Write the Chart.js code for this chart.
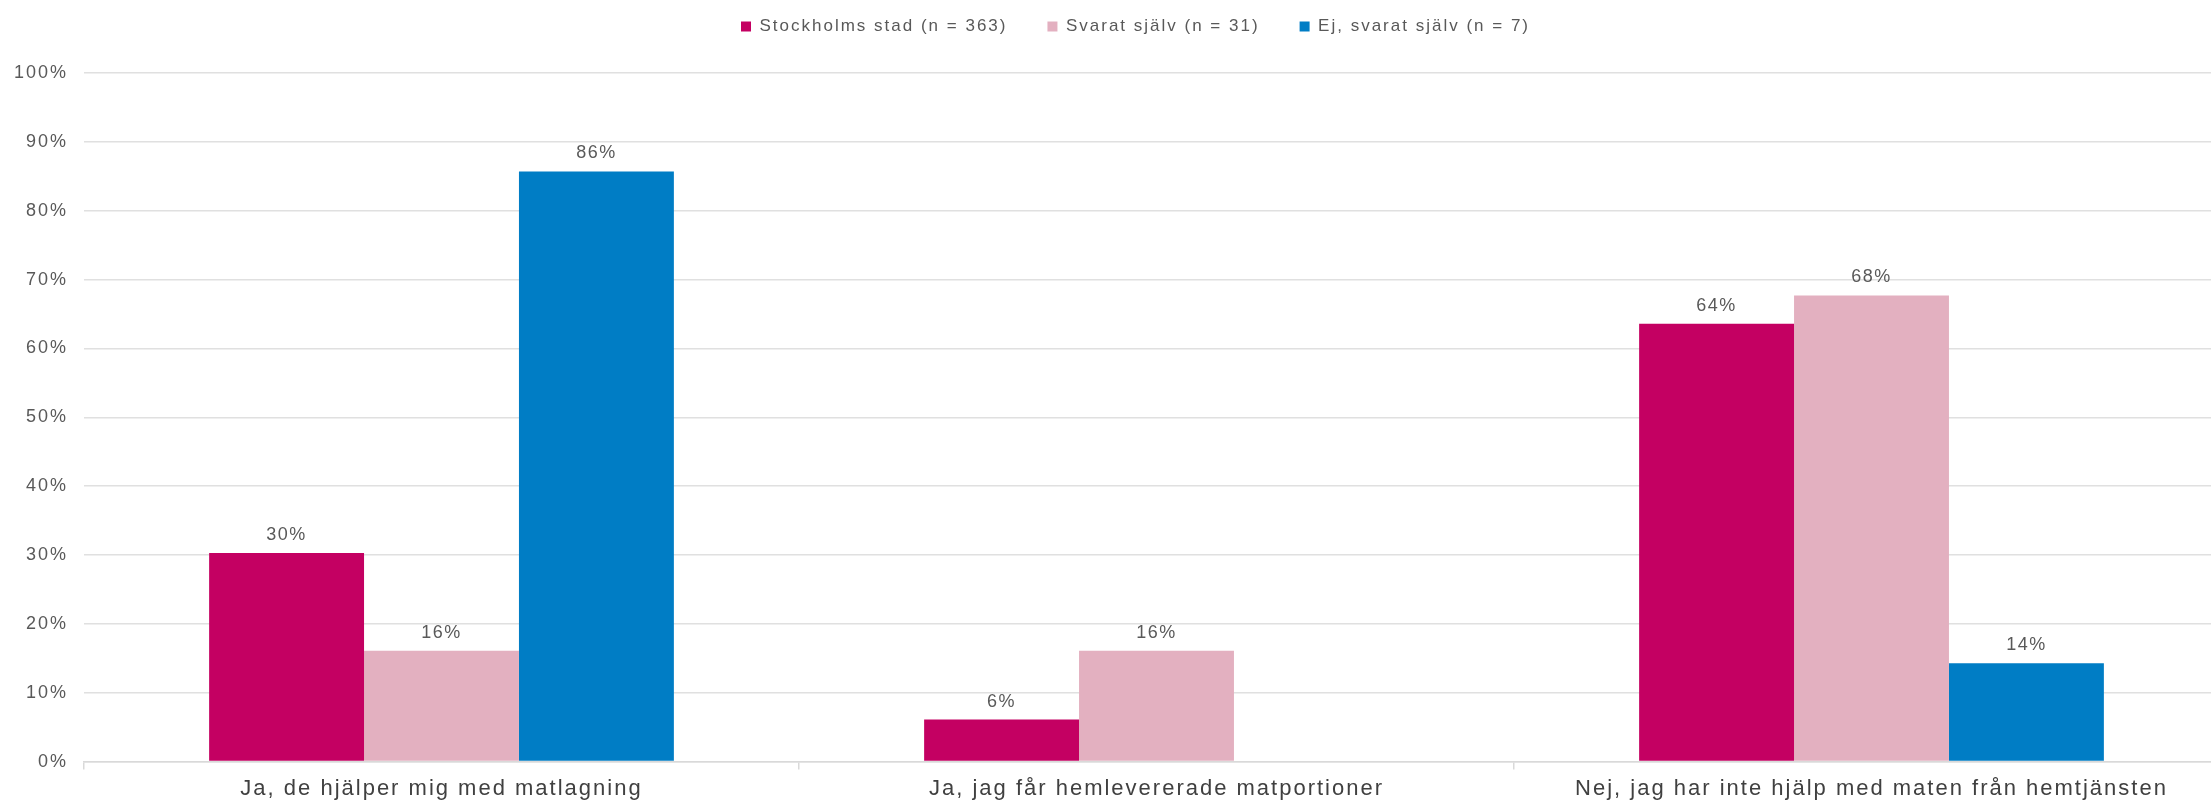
<!DOCTYPE html>
<html>
<head>
<meta charset="utf-8">
<script src="https://cdn.jsdelivr.net/npm/chart.js@4"></script>
<style>
  html, body { margin: 0; padding: 0; background: #fff; overflow: hidden; }
  #wrap { width: 2260px; height: 804px; position: relative; }
</style>
</head>
<body>
<div id="wrap"><canvas id="matChart"></canvas></div>
<script>
const categories = [
    "Ja, de hjälper mig med matlagning",
    "Ja, jag får hemlevererade matportioner",
    "Nej, jag har inte hjälp med maten från hemtjänsten"
];
const seriesNames = ["Stockholms stad (n = 363)", "Svarat själv (n = 31)", "Ej, svarat själv (n = 7)"];
const stockholm = [30.3, 6.1, 63.6];
const svaratSjalv = [16.1, 16.1, 67.7];
const ejSvaratSjalv = [85.7, null, 14.3];
const yTicks = [0, 10, 20, 30, 40, 50, 60, 70, 80, 90, 100];

const colors = ['#C40062', '#E3B0C0', '#007DC5'];

// spaced-out text like the original export
const spacing = {
    id: 'spacing',
    beforeLayout(chart) { chart.ctx.letterSpacing = '2px'; },
    beforeDraw(chart) { chart.ctx.letterSpacing = '2px'; }
};

// extra room between legend and plot, legend nudged right
const legendGap = {
    id: 'legendGap',
    beforeLayout(chart) {
        const lg = chart.legend;
        if (lg && !lg._gapPatched) {
            const fit = lg.fit.bind(lg);
            lg.fit = function () { fit(); this.height += 28; };
            lg._gapPatched = true;
        }
    },
    afterLayout(chart) {
        const lg = chart.legend;
        if (lg) { lg.left += 21; lg.right += 21; }
    }
};

// value labels above bars
const barLabels = {
    id: 'barLabels',
    afterDatasetsDraw(chart) {
        const ctx = chart.ctx;
        ctx.save();
        ctx.letterSpacing = '1.5px';
        ctx.font = "18px 'Liberation Sans', Arial, sans-serif";
        ctx.fillStyle = '#595959';
        ctx.textAlign = 'center';
        ctx.textBaseline = 'middle';
        chart.data.datasets.forEach((ds, i) => {
            const meta = chart.getDatasetMeta(i);
            meta.data.forEach((bar, j) => {
                const v = ds.data[j];
                if (v === null || v === undefined) return;
                ctx.fillText(Math.round(v) + '%', bar.x, bar.y - 18);
            });
        });
        ctx.restore();
    }
};

new Chart(document.getElementById('matChart'), {
    type: 'bar',
    data: {
        labels: categories,
        datasets: [
            { label: seriesNames[0], data: stockholm, backgroundColor: colors[0] },
            { label: seriesNames[1], data: svaratSjalv, backgroundColor: colors[1] },
            { label: seriesNames[2], data: ejSvaratSjalv, backgroundColor: colors[2] }
        ]
    },
    options: {
        responsive: true,
        maintainAspectRatio: false,
        animation: false,
        datasets: {
            bar: { categoryPercentage: 0.65, barPercentage: 1.0, borderWidth: 0 }
        },
        layout: { padding: { top: -22, right: 31, left: 0, bottom: -4 } },
        plugins: {
            tooltip: { enabled: false },
            legend: {
                position: 'top',
                labels: {
                    boxWidth: 10,
                    boxHeight: 10,
                    padding: 40,
                    color: '#595959',
                    font: { family: "'Liberation Sans', Arial, sans-serif", size: 17 }
                }
            }
        },
        scales: {
            x: {
                grid: {
                    drawOnChartArea: false,
                    drawTicks: true,
                    tickLength: 8,
                    color: '#d9d9d9',
                    lineWidth: 1.5
                },
                border: { display: true, color: '#d9d9d9', width: 1.5 },
                ticks: {
                    color: '#404040',
                    padding: 6,
                    maxRotation: 0,
                    font: { family: "'Liberation Sans', Arial, sans-serif", size: 22 }
                }
            },
            y: {
                min: yTicks[0],
                max: yTicks[yTicks.length - 1],
                afterFit(scale) { scale.width = 84; },
                afterBuildTicks(scale) { scale.ticks = yTicks.map(v => ({ value: v })); },
                grid: { color: '#e0e0e0', lineWidth: 1.5, drawTicks: false },
                border: { display: false },
                ticks: {
                    color: '#595959',
                    padding: 16,
                    font: { family: "'Liberation Sans', Arial, sans-serif", size: 18 },
                    callback: v => v + '%'
                }
            }
        }
    },
    plugins: [spacing, legendGap, barLabels]
});
</script>
</body>
</html>
